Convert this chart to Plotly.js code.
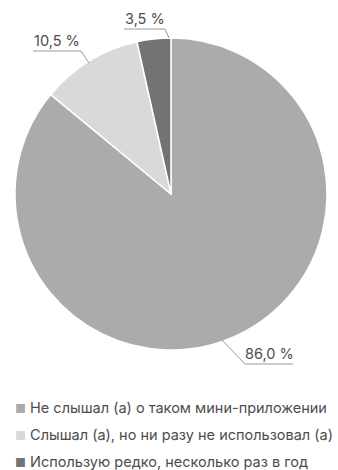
<!DOCTYPE html>
<html><head><meta charset="utf-8">
<script src="https://cdn.plot.ly/plotly-3.0.1.min.js"></script>
<style>html,body{margin:0;padding:0;background:#fff}#c{width:338px;height:470px}</style>
</head><body><div id="c"></div>
<script>
const categories = ["Не слышал (а) о таком мини-приложении", "Слышал (а), но ни разу не использовал (а)", "Использую редко, несколько раз в год"];
const values = [86.0, 10.5, 3.5];
const colors = ["#ababab", "#d9d9d9", "#737373"];

const W = 338, H = 470;
const px = x => x / W, py = y => 1 - y / H;
const fmt = v => v.toFixed(1).replace('.', ',') + ' %';
const FONT = "Inter, Roboto, sans-serif";

const labelPos = [
  {cx: 269, uy: 364, x0: 245, x1: 293, lx: 245, ly: 364, ex: 222, ey: 340},
  {cx: 57,  uy: 51,  x0: 33,  x1: 81,  lx: 81,  ly: 51,  ex: 89,  ey: 63},
  {cx: 145, uy: 29,  x0: 124, x1: 165, lx: 165, ly: 29,  ex: 169, ey: 38}
];

const shapes = [], annotations = [];
values.forEach((v, i) => {
  const p = labelPos[i];
  shapes.push({type: 'line', xref: 'paper', yref: 'paper', x0: px(p.x0), x1: px(p.x1), y0: py(p.uy), y1: py(p.uy), line: {color: '#999', width: 1}});
  shapes.push({type: 'line', xref: 'paper', yref: 'paper', x0: px(p.lx), x1: px(p.ex), y0: py(p.ly), y1: py(p.ey), line: {color: '#999', width: 1}});
  annotations.push({xref: 'paper', yref: 'paper', x: px(p.cx), y: py(p.uy - 1), xanchor: 'center', yanchor: 'bottom', showarrow: false, text: fmt(v), font: {family: FONT, size: 14.5, color: '#4d4d4d'}, borderpad: 0});
});
const legY = [407, 434, 461];
categories.forEach((c, i) => {
  annotations.push({xref: 'paper', yref: 'paper', x: px(13), y: py(legY[i]), xanchor: 'left', yanchor: 'middle', showarrow: false,
    text: '<span style="color:' + colors[i] + ';font-size:12px">■</span> ' + c, font: {family: FONT, size: 14.5, color: '#4d4d4d'}});
});

Plotly.newPlot('c', [{
  type: 'pie', values: values, labels: categories, sort: false, direction: 'clockwise', rotation: 0,
  marker: {colors: colors, line: {color: '#fff', width: 1.5}}, textinfo: 'none', hoverinfo: 'none',
  domain: {x: [px(15), px(327)], y: [py(350), py(38)]}
}], {
  width: W, height: H, margin: {l: 0, r: 0, t: 0, b: 0}, showlegend: false,
  paper_bgcolor: '#fff', shapes: shapes, annotations: annotations
}, {staticPlot: true});
</script></body></html>
